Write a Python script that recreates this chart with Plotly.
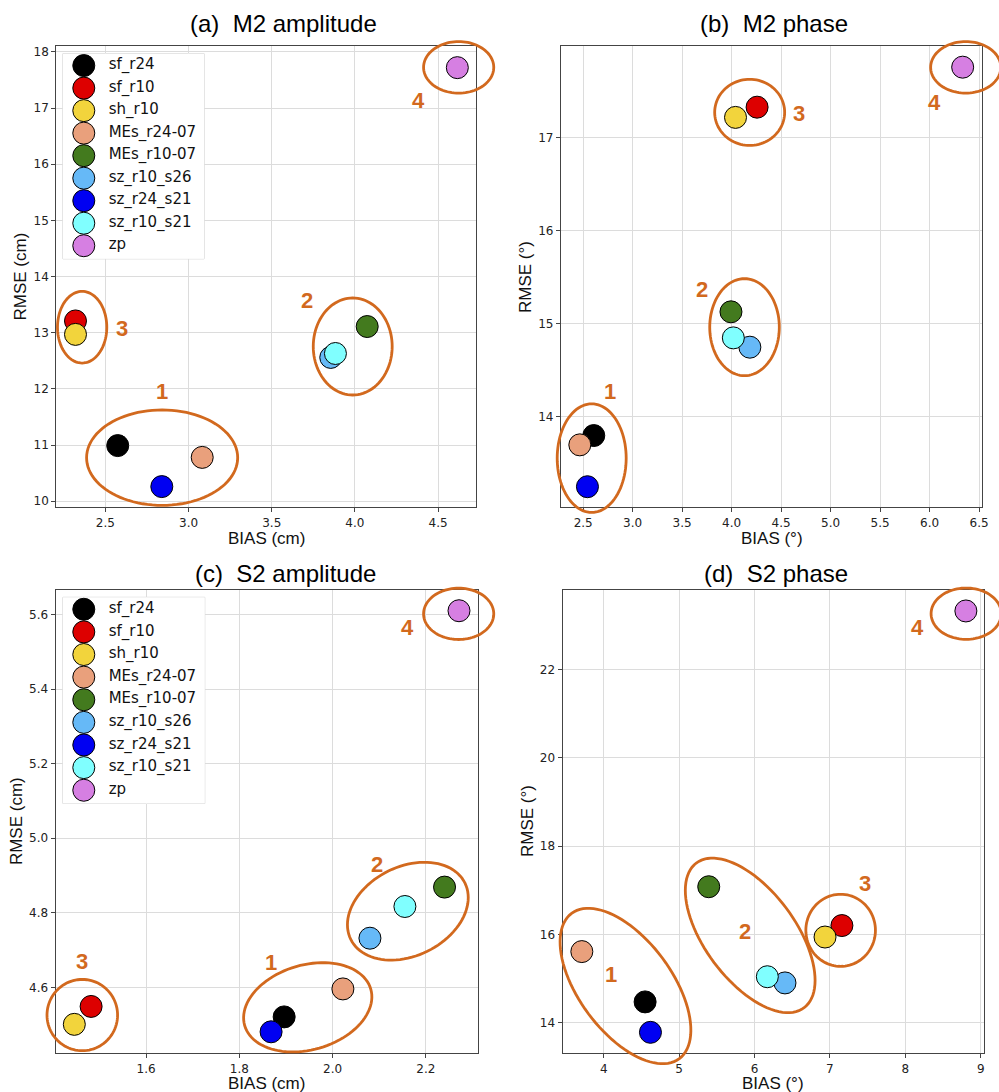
import numpy as np
import plotly.graph_objects as go

W, H = 999, 1092

# Experiment names and their marker colours
names = ["sf_r24", "sf_r10", "sh_r10", "MEs_r24-07", "MEs_r10-07",
         "sz_r10_s26", "sz_r24_s21", "sz_r10_s21", "zp"]
colors = ["#000000", "#DD0000", "#F2D43C", "#E9A07C", "#437A1E",
          "#66B9F7", "#0000F2", "#80FFFF", "#D67FE2"]

# BIAS / RMSE per experiment
m2_amp_bias = [2.574, 2.320, 2.320, 3.082, 4.074, 3.855, 2.839, 3.883, 4.616]
m2_amp_rmse = [10.99, 13.21, 12.97, 10.78, 13.11, 12.56, 10.26, 12.63, 17.72]
m2_pha_bias = [2.607, 4.257, 4.039, 2.466, 3.993, 4.184, 2.543, 4.017, 6.334]
m2_pha_rmse = [13.80, 17.33, 17.22, 13.70, 15.13, 14.75, 13.25, 14.85, 17.76]
s2_amp_bias = [1.896, 1.482, 1.446, 2.022, 2.240, 2.080, 1.868, 2.155, 2.271]
s2_amp_rmse = [4.521, 4.549, 4.501, 4.596, 4.869, 4.732, 4.481, 4.817, 5.610]
s2_pha_bias = [4.549, 7.159, 6.935, 3.710, 5.393, 6.404, 4.620, 6.170, 8.803]
s2_pha_rmse = [14.47, 16.20, 15.94, 15.61, 17.08, 14.90, 13.78, 15.04, 23.33]

group_labels = ["1", "2", "3", "4"]

ORANGE = "#D2691E"
TITLE_FONT = "Liberation Sans, Arial, sans-serif"
TICK_FONT = "DejaVu Sans, sans-serif"

# Group outlines: centre (data), semi-axes (px), tilt (deg), label position (data)
panels = [
    dict(title="(a)  M2 amplitude", xlab="BIAS (cm)", ylab="RMSE (cm)",
         bias=m2_amp_bias, rmse=m2_amp_rmse,
         box=(56.7, 45.5, 479.0, 507.3),
         xr=(2.205, 4.729), yr=(9.890, 18.098), xdt=0.5, ydt=1,
         xfmt=".1f", yfmt="d",
         title_xy=(285.5, 23), xlab_xy=(268, 538), ylab_xy=(20.7, 276.4),
         groups=[((2.841, 10.775), 76.0, 47.8, 0, (2.839, 11.946)),
                 ((3.987, 12.755), 39.7, 48.6, 0, (3.715, 13.578)),
                 ((2.360, 13.098), 24.8, 35.9, 0, (2.600, 13.070)),
                 ((4.624, 17.725), 35.3, 25.8, 0, (4.381, 17.140))],
         legend=dict(box=(63.3, 52.7, 205.3, 258.3), first=12.0, pitch=22.56)),
    dict(title="(b)  M2 phase", xlab="BIAS (°)", ylab="RMSE (°)",
         bias=m2_pha_bias, rmse=m2_pha_rmse,
         box=(564.3, 45.5, 988.3, 507.3),
         xr=(2.275, 6.533), yr=(13.028, 17.983), xdt=0.5, ydt=1,
         xfmt=".1f", yfmt="d",
         title_xy=(778.3, 23), xlab_xy=(776.7, 538), ylab_xy=(529.3, 276.4),
         groups=[((2.586, 13.557), 34.7, 54.4, 0, (2.767, 14.269)),
                 ((4.130, 14.965), 35.0, 48.6, 0, (3.698, 15.375)),
                 ((4.182, 17.274), 35.2, 33.1, 0, (4.683, 17.259)),
                 ((6.365, 17.758), 35.3, 25.8, 0, (6.054, 17.381))],
         legend=None),
    dict(title="(c)  S2 amplitude", xlab="BIAS (cm)", ylab="RMSE (cm)",
         bias=s2_amp_bias, rmse=s2_amp_rmse,
         box=(56.0, 590.3, 481.0, 1054.0),
         xr=(1.406, 2.312), yr=(4.424, 5.665), xdt=0.2, ydt=0.2,
         xfmt=".1f", yfmt=".1f",
         title_xy=(287.3, 574), xlab_xy=(268, 1084), ylab_xy=(16.7, 822),
         groups=[((1.9466, 4.5466), 66.0, 42.5, 16, (1.868, 4.6659)),
                 ((2.1613, 4.8044), 64.0, 44.7, 26, (2.0948, 4.9288)),
                 ((1.4631, 4.5259), 35.5, 35.7, 0, (1.462, 4.6687)),
                 ((2.2703, 5.6017), 35.3, 25.7, 0, (2.161, 5.5658))],
         legend=dict(box=(63.3, 597.4, 206.0, 804.0), first=12.0, pitch=22.66)),
    dict(title="(d)  S2 phase", xlab="BIAS (°)", ylab="RMSE (°)",
         bias=s2_pha_bias, rmse=s2_pha_rmse,
         box=(566.0, 590.3, 990.0, 1054.0),
         xr=(3.455, 9.044), yr=(13.31, 23.80), xdt=1, ydt=2,
         xfmt="d", yfmt="d",
         title_xy=(780.5, 574), xlab_xy=(778, 1084), ylab_xy=(530.7, 822),
         groups=[((4.2887, 14.830), 90.7, 46.5, -53.3, (4.0923, 15.0997)),
                 ((5.9428, 15.977), 90.5, 45.4, -53.2, (5.8716, 16.056)),
                 ((7.1422, 16.092), 35.0, 36.1, 0, (7.4718, 17.148)),
                 ((8.807, 23.268), 35.3, 25.7, 0, (8.157, 22.965))],
         legend=None),
]


def paper(px, py):
    return px / W, 1 - py / H


def data_to_px(p, x, y):
    l, t, r, b = p["box"]
    px = l + (x - p["xr"][0]) / (p["xr"][1] - p["xr"][0]) * (r - l)
    py = t + (p["yr"][1] - y) / (p["yr"][1] - p["yr"][0]) * (b - t)
    return px, py


def ellipse_path(cx, cy, a, b, ang):
    th = np.deg2rad(ang)
    t = np.linspace(0, 2 * np.pi, 97)[:-1]
    ex, ey = a * np.cos(t), b * np.sin(t)
    X = cx + ex * np.cos(th) - ey * np.sin(th)
    Y = cy - (ex * np.sin(th) + ey * np.cos(th))
    pts = [paper(xx, yy) for xx, yy in zip(X, Y)]
    return "M " + " L ".join(f"{u:.5f},{v:.5f}" for u, v in pts) + " Z"


fig = go.Figure()
layout = dict(width=W, height=H, margin=dict(l=0, r=0, t=0, b=0),
              paper_bgcolor="white", plot_bgcolor="white", showlegend=False)
shapes, annotations = [], []

for i, p in enumerate(panels, start=1):
    sfx = "" if i == 1 else str(i)
    l, t, r, b = p["box"]
    common = dict(showgrid=True, gridcolor="#dcdcdc", gridwidth=1,
                  zeroline=False, showline=True, mirror=True,
                  linecolor="#444", linewidth=1.2, ticks="outside",
                  ticklen=4, tickcolor="#444",
                  tickfont=dict(family=TICK_FONT, size=12, color="#222"))
    layout["xaxis" + sfx] = dict(common, domain=[l / W, r / W],
                                 range=list(p["xr"]), dtick=p["xdt"],
                                 tickformat=p["xfmt"], anchor="y" + sfx)
    layout["yaxis" + sfx] = dict(common, domain=[1 - b / H, 1 - t / H],
                                 range=list(p["yr"]), dtick=p["ydt"],
                                 tickformat=p["yfmt"], anchor="x" + sfx)

    fig.add_trace(go.Scatter(
        x=p["bias"], y=p["rmse"], mode="markers", text=names,
        xaxis="x" + sfx, yaxis="y" + sfx, cliponaxis=False,
        marker=dict(size=22, color=colors, opacity=1,
                    line=dict(color="black", width=1)),
        hovertemplate="%{text}<br>BIAS=%{x}<br>RMSE=%{y}<extra></extra>"))

    # panel title and axis labels
    tx, ty = paper(*p["title_xy"])
    annotations.append(dict(text=p["title"], x=tx, y=ty, xref="paper", yref="paper",
                            showarrow=False, xanchor="center", yanchor="middle",
                            font=dict(family=TITLE_FONT, size=24, color="black")))
    lx, ly = paper(*p["xlab_xy"])
    annotations.append(dict(text=p["xlab"], x=lx, y=ly, xref="paper", yref="paper",
                            showarrow=False, xanchor="center", yanchor="middle",
                            font=dict(family=TITLE_FONT, size=17, color="#111")))
    vx, vy = paper(*p["ylab_xy"])
    annotations.append(dict(text=p["ylab"], x=vx, y=vy, xref="paper", yref="paper",
                            showarrow=False, xanchor="center", yanchor="middle",
                            textangle=-90,
                            font=dict(family=TITLE_FONT, size=17, color="#111")))

    # group outlines and their numbers
    for lab, (c, a, bb, ang, lpos) in zip(group_labels, p["groups"]):
        cx, cy = data_to_px(p, *c)
        shapes.append(dict(type="path", xref="paper", yref="paper",
                           path=ellipse_path(cx, cy, a, bb, ang),
                           line=dict(color=ORANGE, width=2.8), layer="above"))
        ax, ay = paper(*data_to_px(p, *lpos))
        annotations.append(dict(text=lab, x=ax, y=ay, xref="paper", yref="paper",
                                showarrow=False, xanchor="center", yanchor="middle",
                                font=dict(family=TITLE_FONT, size=22, color=ORANGE,
                                          weight="bold")))

# legends drawn on their own small axes
leg_axes = 5
for p in panels:
    lg = p["legend"]
    if lg is None:
        continue
    sfx = str(leg_axes)
    l, t, r, b = lg["box"]
    w, h = r - l, b - t
    n_units = h / lg["pitch"]
    off = lg["first"] / lg["pitch"]
    layout["xaxis" + sfx] = dict(domain=[l / W, r / W], range=[0, w], visible=False,
                                 fixedrange=True, anchor="y" + sfx)
    layout["yaxis" + sfx] = dict(domain=[1 - b / H, 1 - t / H],
                                 range=[n_units - off, -off], visible=False,
                                 fixedrange=True, anchor="x" + sfx)
    shapes.append(dict(type="rect", xref="x" + sfx + " domain", yref="y" + sfx + " domain",
                       x0=0, x1=1, y0=0, y1=1, layer="below",
                       fillcolor="rgba(255,255,255,0.8)",
                       line=dict(color="#d0d0d0", width=1)))
    idx = list(range(len(names)))
    fig.add_trace(go.Scatter(
        x=[21] * len(names), y=idx, mode="markers", xaxis="x" + sfx, yaxis="y" + sfx,
        marker=dict(size=22, color=colors, line=dict(color="black", width=1)),
        hoverinfo="skip", cliponaxis=False))
    fig.add_trace(go.Scatter(
        x=[46] * len(names), y=idx, mode="text", text=names,
        textposition="middle right", xaxis="x" + sfx, yaxis="y" + sfx,
        textfont=dict(family=TICK_FONT, size=15, color="#111"),
        hoverinfo="skip", cliponaxis=False))
    leg_axes += 1

layout["shapes"] = shapes
layout["annotations"] = annotations
fig.update_layout(**layout)
fig.write_html("out.html")
